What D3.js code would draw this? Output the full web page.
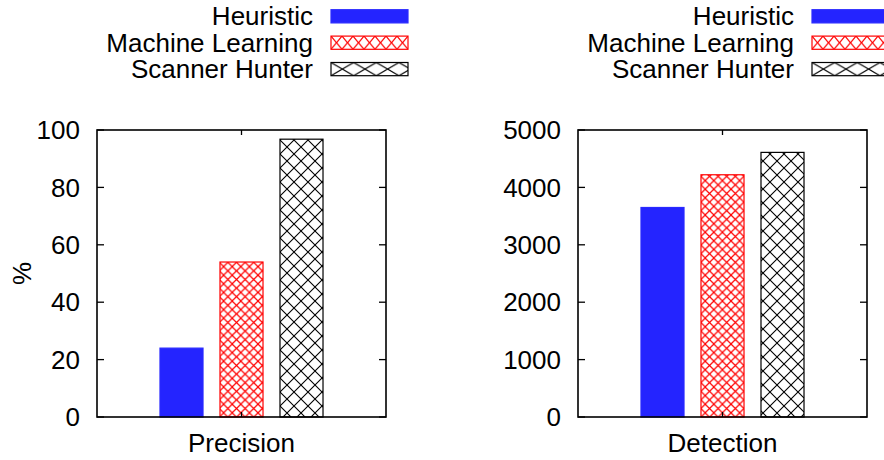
<html>
<head>
<script src="https://cdnjs.cloudflare.com/ajax/libs/d3/7.8.5/d3.min.js"></script>
<style>
  body { margin: 0; background: #fff; }
  text { font-family: "Liberation Sans", Arial, Helvetica, sans-serif; fill: #000; }
</style>
</head>
<body>
<div id="chart"></div>
<script>
// data
var methods = ["Heuristic", "Machine Learning", "Scanner Hunter"];
var precisionValues = [24, 54, 96.8];
var detectionValues = [3650, 4220, 4610];
var precisionTicks = [0, 20, 40, 60, 80, 100];
var detectionTicks = [0, 1000, 2000, 3000, 4000, 5000];

var W = 884, H = 460;
var fontSize = 26;
var plotTop = 130, plotBottom = 417;
var keyH = 13.2, keyW = 77;

var svg = d3.select("#chart").append("svg")
    .attr("width", W)
    .attr("height", H);

// hatch patterns (gnuplot style)
var defs = svg.append("defs");
function crossHatch(id, w, h, color, sw, ox, oy) {
  var p = defs.append("pattern")
      .attr("id", id)
      .attr("patternUnits", "userSpaceOnUse")
      .attr("x", ox || 0)
      .attr("y", oy || 0)
      .attr("width", w)
      .attr("height", h);
  p.append("rect").attr("width", w).attr("height", h).attr("fill", "#fff");
  p.append("path")
      .attr("d", "M0,0L" + w + "," + h + "M" + w + ",0L0," + h)
      .attr("stroke", color)
      .attr("stroke-width", sw)
      .attr("fill", "none");
}
crossHatch("hatchRed", 8.6, 8.6, "#ff0000", 1.2);
crossHatch("hatchBlack", 14, 14, "#000000", 1.1);

var styles = [
  { fill: "#2424ff", stroke: "#2a2aff" },
  { fill: "url(#hatchRed)", stroke: "#ff0000" },
  { fill: "url(#hatchBlack)", stroke: "#000000" }
];

var panels = [
  { name: "Precision", values: precisionValues, ticks: precisionTicks, max: 100, ylabel: "%", left: 97, right: 386 },
  { name: "Detection", values: detectionValues, ticks: detectionTicks, max: 5000, ylabel: null, left: 578, right: 867 }
];

panels.forEach(function(pn, pi) {
  var g = svg.append("g");

  var y = d3.scaleLinear().domain([0, pn.max]).range([plotBottom, plotTop]);
  var x0 = d3.scaleBand().domain([pn.name]).range([pn.left, pn.right]);
  var cx = x0(pn.name) + x0.bandwidth() / 2;
  var x1 = d3.scaleBand().domain(methods)
      .range([cx - 90, cx + 90])
      .paddingInner(0.283)
      .paddingOuter(0.1415);

  // bars
  g.selectAll(".bar")
    .data(pn.values)
    .enter().append("rect")
      .attr("class", "bar")
      .attr("x", function(d, i) { return x1(methods[i]); })
      .attr("y", function(d) { return y(d); })
      .attr("width", x1.bandwidth())
      .attr("height", function(d) { return y(0) - y(d); })
      .attr("fill", function(d, i) { return styles[i].fill; })
      .attr("stroke", function(d, i) { return styles[i].stroke; })
      .attr("stroke-width", 1.2);

  // y ticks, inward on both sides
  var ticks = g.selectAll(".tick").data(pn.ticks).enter();
  ticks.append("line")
      .attr("x1", pn.left).attr("x2", pn.left + 7)
      .attr("y1", function(d) { return y(d); }).attr("y2", function(d) { return y(d); })
      .attr("stroke", "#000").attr("stroke-width", 1.3);
  ticks.append("line")
      .attr("x1", pn.right).attr("x2", pn.right - 7)
      .attr("y1", function(d) { return y(d); }).attr("y2", function(d) { return y(d); })
      .attr("stroke", "#000").attr("stroke-width", 1.3);
  ticks.append("text")
      .attr("x", pn.left - 17)
      .attr("y", function(d) { return y(d); })
      .attr("dy", "0.35em")
      .attr("text-anchor", "end")
      .style("font-size", fontSize + "px")
      .text(function(d) { return d; });

  // x tick marks at category
  g.append("line")
      .attr("x1", cx).attr("x2", cx).attr("y1", plotTop).attr("y2", plotTop + 5)
      .attr("stroke", "#000").attr("stroke-width", 1.3);
  g.append("line")
      .attr("x1", cx).attr("x2", cx).attr("y1", plotBottom).attr("y2", plotBottom - 5)
      .attr("stroke", "#000").attr("stroke-width", 1.3);

  // frame
  g.append("rect")
      .attr("x", pn.left).attr("y", plotTop)
      .attr("width", pn.right - pn.left).attr("height", plotBottom - plotTop)
      .attr("fill", "none").attr("stroke", "#000").attr("stroke-width", 1.6);

  // category label
  g.append("text")
      .attr("x", cx).attr("y", 452)
      .attr("text-anchor", "middle")
      .style("font-size", fontSize + "px")
      .text(pn.name);

  if (pn.ylabel) {
    g.append("text")
      .attr("transform", "translate(22," + ((plotTop + plotBottom) / 2) + ") rotate(-90)")
      .attr("dy", "0.35em")
      .attr("text-anchor", "middle")
      .style("font-size", fontSize + "px")
      .text(pn.ylabel);
  }

  // legend
  var keyX = pn.right - 55;
  var rowY = function(i) { return 16.3 + i * 26.4; };
  // key patterns are stretched to the key box, as in the original
  crossHatch("keyRed" + pi, keyW / 7, keyH, "#ff0000", 1.2, keyX, rowY(1) - keyH / 2);
  crossHatch("keyBlack" + pi, keyW / 3.4, keyH, "#000000", 1.1, keyX, rowY(2) - keyH / 2);
  var keyFills = [styles[0].fill, "url(#keyRed" + pi + ")", "url(#keyBlack" + pi + ")"];

  var lg = g.selectAll(".legend").data(methods).enter().append("g");
  lg.append("text")
      .attr("x", pn.right - 73)
      .attr("y", function(d, i) { return rowY(i); })
      .attr("dy", "0.35em")
      .attr("text-anchor", "end")
      .style("font-size", fontSize + "px")
      .text(function(d) { return d; });
  lg.append("rect")
      .attr("x", keyX)
      .attr("y", function(d, i) { return rowY(i) - keyH / 2; })
      .attr("width", keyW)
      .attr("height", keyH)
      .attr("fill", function(d, i) { return keyFills[i]; })
      .attr("stroke", function(d, i) { return styles[i].stroke; })
      .attr("stroke-width", 1.2);
});
</script>
</body>
</html>
